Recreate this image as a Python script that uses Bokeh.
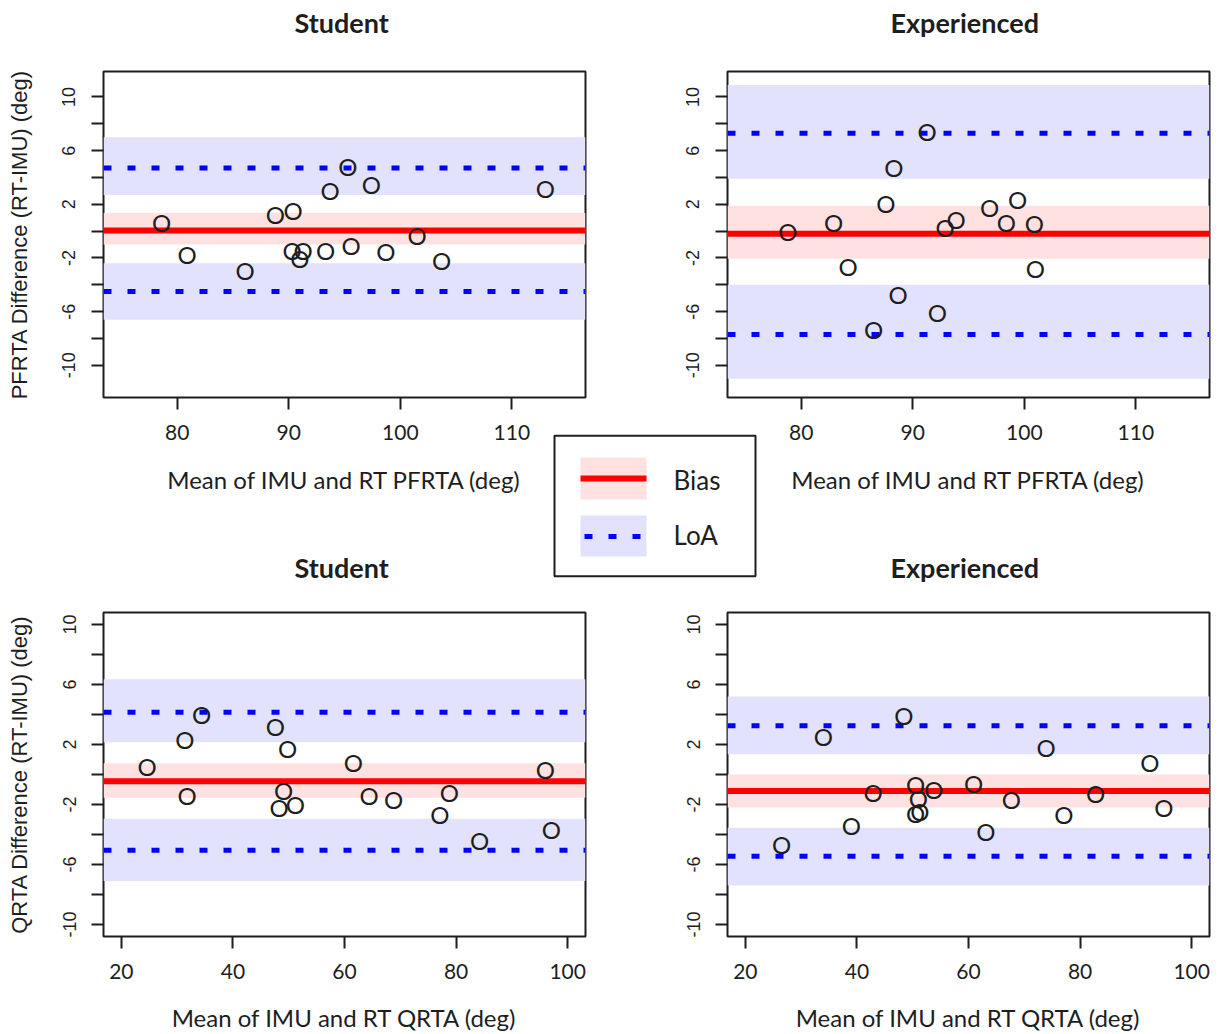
from bokeh.plotting import figure
from bokeh.models import Range1d, Span, BoxAnnotation, FixedTicker, GridBox, Title
from bokeh.core.properties import value
from bokeh.embed import file_html
from bokeh.resources import INLINE

# ---------------- data ----------------
titles = ["Student", "Experienced"]
x_label_pfrta = "Mean of IMU and RT PFRTA (deg)"
x_label_qrta = "Mean of IMU and RT QRTA (deg)"
y_label_pfrta = "PFRTA Difference (RT-IMU) (deg)"
y_label_qrta = "QRTA Difference (RT-IMU) (deg)"

x_ticks_pfrta = [80, 90, 100, 110]
x_ticks_qrta = [20, 40, 60, 80, 100]
y_ticks = [-10, -8, -6, -4, -2, 0, 2, 4, 6, 8, 10]
y_tick_labels = ["-10", "", "-6", "", "-2", "", "2", "", "6", "", "10"]

# PFRTA - Student
pfrta_student_mean = [78.6, 80.9, 86.1, 88.8, 90.4, 90.3, 91.0, 91.3, 93.3, 93.7,
                      95.3, 95.6, 97.4, 98.7, 101.5, 103.7, 113.0]
pfrta_student_diff = [0.5, -1.9, -3.1, 1.1, 1.4, -1.6, -2.2, -1.6, -1.6, 2.9,
                      4.7, -1.2, 3.3, -1.7, -0.5, -2.3, 3.0]
pfrta_student_bias = 0.05
pfrta_student_bias_ci = [-1.0, 1.35]
pfrta_student_loa = [-4.5, 4.7]
pfrta_student_loa_ci = [[-6.6, -2.4], [2.7, 7.0]]

# PFRTA - Experienced
pfrta_exp_mean = [78.8, 82.9, 84.2, 86.5, 87.6, 88.3, 88.7, 91.3, 92.2, 92.9,
                  93.9, 96.9, 98.4, 99.4, 100.9, 101.0]
pfrta_exp_diff = [-0.2, 0.5, -2.8, -7.5, 1.9, 4.6, -4.9, 7.3, -6.2, 0.1,
                  0.7, 1.6, 0.5, 2.2, 0.4, -2.9]
pfrta_exp_bias = -0.2
pfrta_exp_bias_ci = [-2.05, 1.9]
pfrta_exp_loa = [-7.7, 7.3]
pfrta_exp_loa_ci = [[-11.0, -4.0], [3.9, 10.9]]

# QRTA - Student
qrta_student_mean = [24.6, 31.4, 31.8, 34.4, 47.6, 48.3, 49.1, 49.8, 51.2, 61.6,
                     64.4, 68.8, 77.1, 78.8, 84.2, 96.0, 97.1]
qrta_student_diff = [0.4, 2.2, -1.5, 3.9, 3.1, -2.3, -1.2, 1.6, -2.1, 0.7,
                     -1.5, -1.8, -2.8, -1.3, -4.5, 0.2, -3.8]
qrta_student_bias = -0.45
qrta_student_bias_ci = [-1.55, 0.75]
qrta_student_loa = [-5.05, 4.15]
qrta_student_loa_ci = [[-7.1, -2.95], [2.15, 6.35]]

# QRTA - Experienced
qrta_exp_mean = [26.5, 34.0, 39.0, 42.9, 48.4, 50.5, 51.0, 50.5, 51.3, 53.8,
                 60.9, 63.1, 67.7, 73.9, 77.1, 82.8, 92.5, 95.0]
qrta_exp_diff = [-4.8, 2.4, -3.5, -1.3, 3.8, -0.8, -1.7, -2.7, -2.6, -1.1,
                 -0.7, -3.9, -1.8, 1.7, -2.8, -1.4, 0.7, -2.3]
qrta_exp_bias = -1.1
qrta_exp_bias_ci = [-2.2, 0.0]
qrta_exp_loa = [-5.45, 3.25]
qrta_exp_loa_ci = [[-7.4, -3.55], [1.35, 5.2]]

legend_labels = ["Bias", "LoA"]

# ---------------- styles / layout ----------------
INK = "#1e1e1e"
RED = "#ff0000"
BLUE = "#0000ff"
RED_BAND = "#ffe1e1"
BLUE_BAND = "#e2e2fc"
LATO = "Lato"
ARIAL = "Liberation Sans"

FRAME_W, FRAME_H = 482, 326
COL_W = [610, 611]
ROW_H = [500, 534]
BORDER_L = [103, 117]
BORDER_T = [71, 112]
TITLE_GAP = [30, 26]        # empty space kept between frame and title
TITLE_INDENT = [191, 163]   # title start, measured from the frame's left edge


def panel(col, row, title, xr, yr, xticks, xlabel, ylabel, xs, ys, bias, bias_ci, loa, loa_ci):
    bl = BORDER_L[col]
    bt = BORDER_T[row]
    p = figure(width=COL_W[col], height=ROW_H[row],
               x_range=Range1d(*xr), y_range=Range1d(*yr),
               output_backend="svg", toolbar_location=None,
               min_border_left=bl, min_border_right=COL_W[col] - bl - FRAME_W,
               min_border_top=bt, min_border_bottom=ROW_H[row] - bt - FRAME_H,
               background_fill_color="white", border_fill_color="white")
    # invisible spacer between the frame and the title
    p.add_layout(Title(text=" ", text_font_size="1px", standoff=TITLE_GAP[row]), "above")
    p.title.text = title
    p.title.align = "left"
    p.title.offset = TITLE_INDENT[col]
    p.title.standoff = 0
    p.title.text_font = LATO
    p.title.text_font_size = "27px"
    p.title.text_font_style = "bold"
    p.title.text_color = INK

    p.xgrid.visible = False
    p.ygrid.visible = False
    p.outline_line_color = INK
    p.outline_line_width = 2

    for lo, hi in loa_ci:
        p.add_layout(BoxAnnotation(bottom=lo, top=hi, fill_color=BLUE_BAND, fill_alpha=1.0,
                                   line_color=None, level="underlay"))
    p.add_layout(BoxAnnotation(bottom=bias_ci[0], top=bias_ci[1], fill_color=RED_BAND,
                               fill_alpha=1.0, line_color=None, level="underlay"))
    for v in loa:
        p.add_layout(Span(location=v, dimension="width", line_color=BLUE, line_width=5,
                          line_dash="8 16", line_dash_offset=0, level="underlay"))
    p.add_layout(Span(location=bias, dimension="width", line_color=RED, line_width=6,
                      level="underlay"))

    p.text(x=xs, y=ys, text=value("O"), text_font=value(LATO), text_font_size="24px",
           text_align="center", text_baseline="middle", y_offset=-2, text_color=INK)

    p.xaxis.ticker = FixedTicker(ticks=xticks)
    p.xaxis.major_label_overrides = {t: str(t) for t in xticks}
    p.yaxis.ticker = FixedTicker(ticks=y_ticks)
    p.yaxis.major_label_overrides = dict(zip(y_ticks, y_tick_labels))
    p.yaxis.major_label_orientation = "vertical"
    for ax in p.axis:
        ax.axis_line_color = None
        ax.major_tick_out = 12
        ax.major_tick_in = 0
        ax.major_tick_line_color = INK
        ax.major_tick_line_width = 2
        ax.minor_tick_line_color = None
    p.xaxis.major_label_text_font = LATO
    p.xaxis.major_label_text_font_size = "21px"
    p.xaxis.major_label_text_color = INK
    p.xaxis.major_label_standoff = 15
    p.xaxis.axis_label = xlabel
    p.xaxis.axis_label_text_font = LATO
    p.xaxis.axis_label_text_font_size = "24px"
    p.xaxis.axis_label_text_font_style = "normal"
    p.xaxis.axis_label_text_color = INK
    p.xaxis.axis_label_standoff = 22 if row == 0 else 21

    p.yaxis.major_label_text_font = ARIAL
    p.yaxis.major_label_text_font_size = "18px"
    p.yaxis.major_label_text_color = INK
    p.yaxis.major_label_standoff = 16
    if ylabel:
        p.yaxis.axis_label = ylabel
        p.yaxis.axis_label_text_font = ARIAL
        p.yaxis.axis_label_text_font_size = "22px"
        p.yaxis.axis_label_text_font_style = "normal"
        p.yaxis.axis_label_text_color = INK
        p.yaxis.axis_label_standoff = 28
    return p


pa = panel(0, 0, titles[0], (73.4, 116.6), (-12.4, 11.9), x_ticks_pfrta, x_label_pfrta,
           y_label_pfrta, pfrta_student_mean, pfrta_student_diff, pfrta_student_bias,
           pfrta_student_bias_ci, pfrta_student_loa, pfrta_student_loa_ci)
pb = panel(1, 0, titles[1], (73.4, 116.6), (-12.4, 11.9), x_ticks_pfrta, x_label_pfrta, None,
           pfrta_exp_mean, pfrta_exp_diff, pfrta_exp_bias,
           pfrta_exp_bias_ci, pfrta_exp_loa, pfrta_exp_loa_ci)
pc = panel(0, 1, titles[0], (16.8, 103.2), (-10.8, 10.8), x_ticks_qrta, x_label_qrta,
           y_label_qrta, qrta_student_mean, qrta_student_diff, qrta_student_bias,
           qrta_student_bias_ci, qrta_student_loa, qrta_student_loa_ci)
pd = panel(1, 1, titles[1], (16.8, 103.2), (-10.8, 10.8), x_ticks_qrta, x_label_qrta, None,
           qrta_exp_mean, qrta_exp_diff, qrta_exp_bias,
           qrta_exp_bias_ci, qrta_exp_loa, qrta_exp_loa_ci)

# ---------------- overlay (page pixel coordinates) for the shared legend ----------------
TOT_W, TOT_H = sum(COL_W), sum(ROW_H)
# in a GridBox the overlay's frame is aligned with the outer frame edges of the grid
OV_X = (BORDER_L[0], TOT_W - (COL_W[1] - BORDER_L[1] - FRAME_W))
OV_Y = (TOT_H - (ROW_H[1] - BORDER_T[1] - FRAME_H), BORDER_T[0])
ov = figure(width=TOT_W, height=TOT_H, x_range=Range1d(*OV_X), y_range=Range1d(*OV_Y),
            output_backend="svg", toolbar_location=None, x_axis_type=None, y_axis_type=None,
            min_border=0, border_fill_color=None, background_fill_color=None,
            outline_line_color=None)

ov.quad(left=[554], right=[755], top=[436], bottom=[577], fill_color="white",
        line_color=INK, line_width=2)
ov.quad(left=[580], right=[646], top=[458], bottom=[500], fill_color=RED_BAND, line_color=None)
ov.segment(x0=[580], x1=[646], y0=[479], y1=[479], line_color=RED, line_width=6)
ov.quad(left=[580], right=[646], top=[516], bottom=[557], fill_color=BLUE_BAND, line_color=None)
ov.segment(x0=[580], x1=[646], y0=[537], y1=[537], line_color=BLUE, line_width=5,
           line_dash="8 16", line_dash_offset=20)
ov.text(x=[673, 673], y=[480, 536], text=legend_labels, text_font=value(LATO),
        text_font_size="26px", text_align="left", text_baseline="middle", text_color=INK)

grid = GridBox(children=[(pa, 0, 0), (pb, 0, 1), (pc, 1, 0), (pd, 1, 1), (ov, 0, 0, 2, 2)],
               spacing=0)

open("out.html", "w").write(file_html(grid, INLINE))
